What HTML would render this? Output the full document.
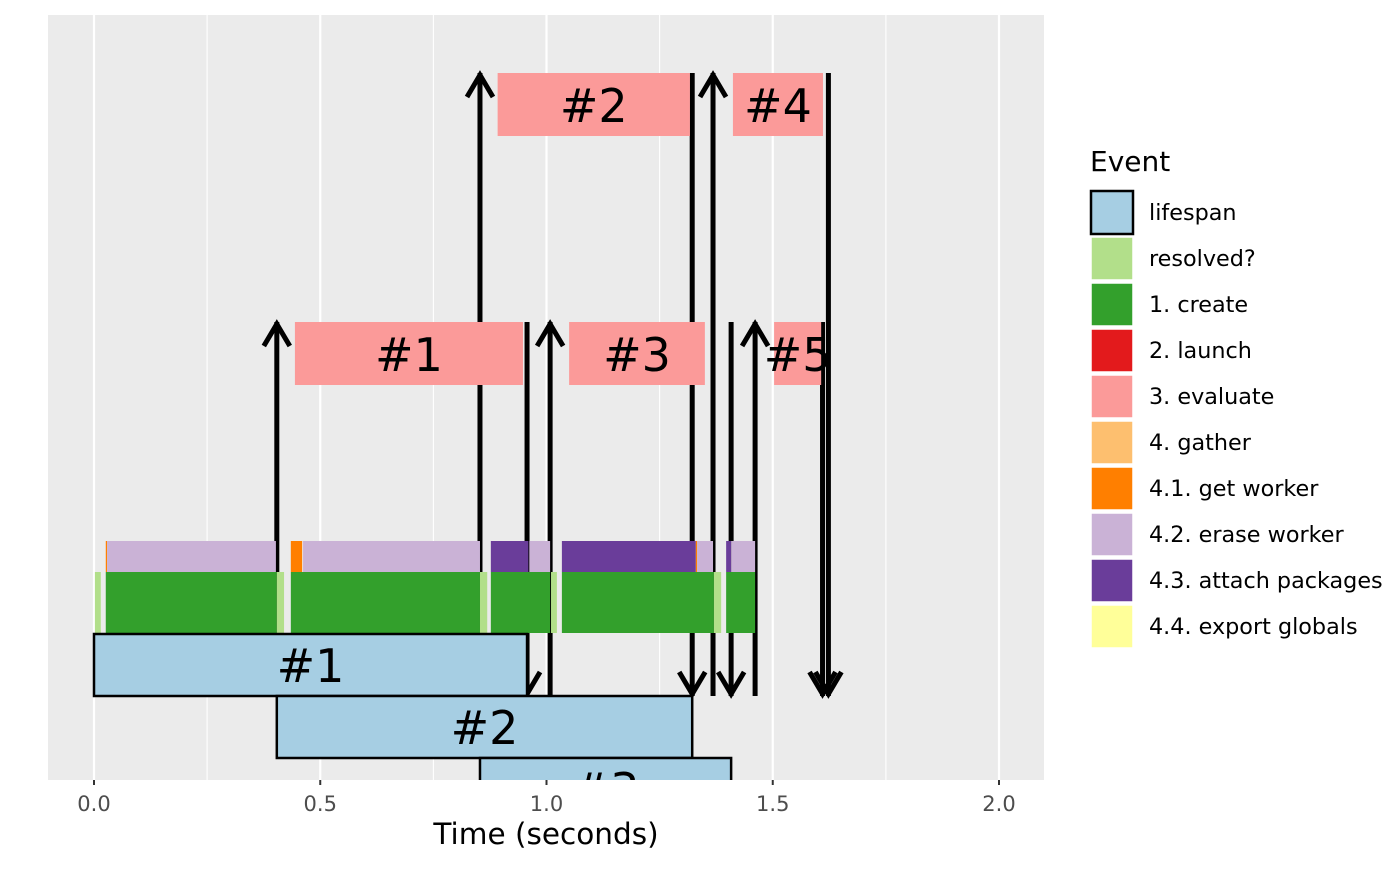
<!DOCTYPE html>
<html><head><meta charset="utf-8"><style>
body{margin:0;background:#fff;font-family:"Liberation Sans","DejaVu Sans",sans-serif}
svg text{font-family:"DejaVu Sans","Liberation Sans",sans-serif}
</style></head><body>
<svg id="c" width="1400" height="866" xmlns="http://www.w3.org/2000/svg"></svg>
<script>
const xTicks=[0,0.5,1,1.5,2];
const xTickLabels=["0.0","0.5","1.0","1.5","2.0"];
const lifeStart=[0,0.404,0.853];
const lifeEnd=[0.957,1.322,1.408];
const lifeLabels=["#1","#2","#3"];
const createSegs=[[0.002,0.015,"resolved"],[0.026,0.404,"create"],[0.404,0.42,"resolved"],[0.435,0.853,"create"],[0.853,0.869,"resolved"],[0.877,1.008,"create"],[1.01,1.023,"resolved"],[1.034,1.37,"create"],[1.37,1.386,"resolved"],[1.397,1.461,"create"]];
const workerSegs=[[0.026,0.029,"getworker"],[0.029,0.402,"erase"],[0.435,0.46,"getworker"],[0.462,0.853,"erase"],[0.877,0.96,"attach"],[0.962,1.008,"erase"],[1.034,1.33,"attach"],[1.33,1.333,"getworker"],[1.333,1.368,"erase"],[1.397,1.408,"attach"],[1.408,1.461,"erase"]];
const launchT=[0.404,0.853,1.008,1.368,1.461];
const gatherT=[0.957,1.322,1.408,1.623,1.61];
const evalStart=[0.444,0.892,1.05,1.412,1.503];
const evalEnd=[0.948,1.317,1.35,1.611,1.607];
const evalRow=[0,1,0,1,0];
const evalLabels=["#1","#2","#3","#4","#5"];
const legendKeys=["lifespan","resolved","create","launch","evaluate","gather","getworker","erase","attach","export"];
const legendLabels=["lifespan","resolved?","1. create","2. launch","3. evaluate","4. gather","4.1. get worker","4.2. erase worker","4.3. attach packages","4.4. export globals"];
const colors={lifespan:"#a6cee3",resolved:"#b2df8a",create:"#33a02c",launch:"#e31a1c",evaluate:"#fb9a99",gather:"#fdbf6f",getworker:"#ff7f00",erase:"#cab2d6",attach:"#6a3d9a",export:"#ffff99"};

const svg=document.getElementById('c');
const NS="http://www.w3.org/2000/svg";
const X=t=>94+t*452.5;
function el(tag,attrs,parent){const e=document.createElementNS(NS,tag);for(const k in attrs)e.setAttribute(k,attrs[k]);(parent||svg).appendChild(e);return e;}
const clip=el('clipPath',{id:'pc'});el('rect',{x:48,y:15,width:996,height:765},clip);
const panel=el('rect',{x:48,y:15,width:996,height:765,fill:'#ebebeb'});


const g=el('g',{'clip-path':'url(#pc)'});


for(let i=0;i<xTicks.length-1;i++){const m=el('line',{x1:X(xTicks[i]+0.25),x2:X(xTicks[i]+0.25),y1:15,y2:780,stroke:'#fff','stroke-width':1.1},g);

}
xTicks.forEach((t,i)=>{const l=el('line',{x1:X(t),x2:X(t),y1:15,y2:780,stroke:'#fff','stroke-width':2.2},g);


el('line',{x1:X(t),x2:X(t),y1:780,y2:785,stroke:'#333','stroke-width':2});
const tx=el('text',{x:X(t),y:811,'text-anchor':'middle','font-size':21,fill:'#4d4d4d'});tx.textContent=xTickLabels[i];

});
const rowTop=[322,73], rowH=63;
function arrow(x,yFrom,yTo,name){const a=el('g',{stroke:'#000','stroke-width':5,fill:'none'},g);


el('line',{x1:x,x2:x,y1:yFrom,y2:yTo},a);const d=yTo<yFrom?1:-1;
el('polyline',{points:`${x-13},${yTo+d*24} ${x},${yTo+d*2} ${x+13},${yTo+d*24}`},a);}
launchT.forEach((t,i)=>arrow(X(t),696,rowTop[evalRow[i]],'launch-arrow'));
gatherT.forEach((t,i)=>arrow(X(t),rowTop[evalRow[i]],696,'gather-arrow'));
evalStart.forEach((s,i)=>{const y=rowTop[evalRow[i]];const r=el('rect',{x:X(s),y:y,width:X(evalEnd[i])-X(s),height:rowH,fill:colors.evaluate},g);


const tx=el('text',{x:(X(s)+X(evalEnd[i]))/2,y:y+49,'text-anchor':'middle','font-size':46,fill:'#000'},g);tx.textContent=evalLabels[i];

});
createSegs.forEach(s=>{const r=el('rect',{x:X(s[0]),y:572,width:X(s[1])-X(s[0]),height:61,fill:colors[s[2]]},g);

});
workerSegs.forEach(s=>{const r=el('rect',{x:X(s[0]),y:541,width:X(s[1])-X(s[0]),height:31,fill:colors[s[2]]},g);

});
lifeStart.forEach((s,i)=>{const y=634+i*62;const r=el('rect',{x:X(s),y:y,width:X(lifeEnd[i])-X(s),height:62,fill:colors.lifespan,stroke:'#000','stroke-width':2.5},g);


const tx=el('text',{x:(X(s)+X(lifeEnd[i]))/2,y:y+48,'text-anchor':'middle','font-size':46,fill:'#000'},g);tx.textContent=lifeLabels[i];

});
const xt=el('text',{x:546,y:844,'text-anchor':'middle','font-size':29.5,fill:'#000'});xt.textContent="Time (seconds)";


const lt=el('text',{x:1090,y:171,'font-size':28,fill:'#000'});lt.textContent="Event";


legendKeys.forEach((k,i)=>{const y=190+i*46;const r=el('rect',{x:1091,y:y+1,width:42,height:43,fill:colors[k],stroke:k==='lifespan'?'#000':'#fff','stroke-width':k==='lifespan'?2.5:1.5});


const tx=el('text',{x:1149,y:y+30,'font-size':22.3,fill:'#000'});tx.textContent=legendLabels[i];

});
</script>
</body></html>
